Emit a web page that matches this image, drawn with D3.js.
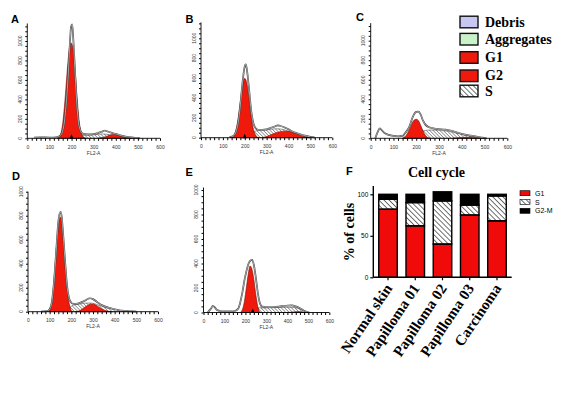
<!DOCTYPE html>
<html>
<head>
<meta charset="utf-8">
<script src="https://cdn.jsdelivr.net/npm/d3@7"></script>
<style>
	body { margin: 0; background: #fff; }
	svg { display: block; }
</style>
</head>
<body>
<svg id="fig" width="580" height="396"></svg>
<script>
// ---- data ----
const histXTicks = [0, 100, 200, 300, 400, 500, 600];
const histYTicks = [0, 200, 400, 600, 800, 1000];
const histXLabel = 'FL2-A';

// panel A
const totalA = [[30,8],[60,10],[100,8],[130,10],[150,30],[165,130],[175,330],[185,650],[192,950],[198,1150],[203,1170],[208,1020],[215,720],[222,420],[230,190],[240,80],[250,48],[270,40],[300,42],[320,55],[340,70],[350,80],[360,72],[380,58],[400,45],[420,30],[450,15],[480,7],[500,2],[510,0]];
const g1A = [[135,0],[150,40],[160,150],[170,380],[180,680],[190,920],[198,980],[205,940],[215,720],[225,420],[235,170],[245,50],[255,10],[265,0]];
const g2A = [[320,0],[340,8],[360,22],[380,36],[395,40],[410,34],[430,18],[450,6],[470,0]];
const sA = [[200,0],[230,20],[250,30],[280,32],[310,38],[340,45],[370,38],[400,26],[430,12],[460,3],[480,0]];

// panel B
const totalB = [[130,5],[150,20],[160,60],[170,150],[180,330],[190,560],[200,720],[205,738],[210,680],[220,480],[230,260],[240,140],[250,95],[260,80],[280,80],[300,85],[320,100],[340,115],[350,125],[360,120],[380,105],[400,85],[420,60],[440,45],[460,30],[480,18],[500,8],[520,0]];
const g1B = [[135,0],[150,25],[160,80],[170,200],[180,370],[190,530],[200,597],[210,540],[220,380],[230,200],[240,80],[250,25],[260,0]];
const g2B = [[280,0],[300,12],[320,30],[340,48],[360,60],[380,66],[400,64],[420,52],[440,35],[460,18],[480,6],[500,0]];
const sB = [[180,0],[200,20],[220,40],[240,60],[260,72],[280,75],[300,78],[320,85],[340,90],[360,88],[380,80],[400,65],[420,50],[440,35],[460,20],[480,8],[500,0]];

// panel C
const totalC = [[20,0],[30,60],[40,102],[50,80],[60,55],[80,35],[100,25],[120,20],[140,25],[150,50],[170,120],[185,220],[200,270],[210,273],[220,240],[230,180],[240,140],[260,110],[280,100],[300,95],[320,90],[340,85],[360,75],[380,60],[400,45],[420,35],[440,28],[460,20],[480,10],[500,3],[510,0]];
const g1C = [[140,0],[150,15],[160,45],[170,90],[180,145],[190,185],[200,195],[210,180],[220,130],[230,75],[240,30],[250,8],[260,0]];
const g2C = [[360,0],[380,4],[400,9],[420,11],[440,9],[460,4],[480,0]];
const sC = [[140,0],[160,10],[180,30],[200,50],[220,70],[240,80],[260,85],[280,85],[300,82],[320,78],[340,72],[360,62],[380,52],[400,40],[420,30],[440,20],[460,12],[480,5],[500,0]];

// panel D
const totalD = [[60,0],[90,5],[100,20],[110,80],[120,250],[130,500],[140,750],[150,833],[155,800],[160,700],[170,450],[180,220],[190,110],[200,75],[210,65],[230,68],[250,82],[270,100],[285,112],[300,105],[320,80],[340,55],[360,40],[380,30],[400,20],[420,12],[440,8],[460,5],[480,2],[500,0]];
const g1D = [[95,0],[105,30],[115,150],[125,380],[135,620],[145,770],[150,787],[158,720],[165,560],[175,320],[185,130],[195,30],[205,0]];
const g2D = [[220,0],[240,10],[260,35],[280,58],[295,64],[310,58],[330,35],[350,15],[370,4],[390,0]];
const sD = [[150,0],[170,15],[190,35],[210,55],[230,62],[250,68],[270,72],[290,72],[310,65],[330,52],[350,40],[370,30],[390,22],[410,15],[430,10],[450,6],[470,3],[490,0]];

// panel E
const totalE = [[20,0],[35,30],[45,55],[55,40],[65,20],[80,12],[100,10],[130,10],[150,12],[165,30],[175,80],[185,160],[195,260],[205,340],[215,400],[225,425],[232,430],[240,390],[250,280],[260,150],[270,70],[280,48],[300,45],[330,45],[360,48],[390,55],[420,58],[440,50],[460,35],[480,15],[495,3],[505,0]];
const g1E = [[175,0],[185,20],[195,90],[205,210],[215,330],[222,380],[230,360],[240,270],[250,140],[260,40],[268,5],[275,0]];
const g2E = [[400,0],[430,5],[450,8],[470,5],[490,0]];
const sE = [[180,0],[200,10],[220,25],[240,35],[260,38],[300,38],[340,40],[380,42],[420,42],[450,35],[470,22],[490,8],[500,0]];

// marker (G1 mean channel)
const markerA = 200, markerB = 200, markerE = 235;

// legend of histograms
const modelNames = ['Debris', 'Aggregates', 'G1', 'G2', 'S'];

// panel F
const categories = ['Normal skin', 'Papilloma 01', 'Papilloma 02', 'Papilloma 03', 'Carcinoma'];
const g1Pct = [82, 62, 40, 75, 68];
const sPct = [12, 28, 52, 12, 30];
const g2mPct = [6, 10, 11, 13, 2];
const phaseNames = ['G1', 'S', 'G2-M'];
const fYTicks = [0, 50, 100];

// ---- drawing ----
const svg = d3.select('#fig');
const red = '#ef1a0b';

const defs = svg.append('defs');
defs.append('pattern')
	.attr('id', 'hatch')
	.attr('patternUnits', 'userSpaceOnUse')
	.attr('width', 2.4).attr('height', 2.4)
	.attr('patternTransform', 'rotate(-45)')
	.append('line')
	.attr('x1', 0).attr('y1', 0).attr('x2', 0).attr('y2', 2.4)
	.attr('stroke', '#1a1a1a').attr('stroke-width', 0.8);
defs.append('pattern')
	.attr('id', 'hatchF')
	.attr('patternUnits', 'userSpaceOnUse')
	.attr('width', 3.6).attr('height', 3.6)
	.attr('patternTransform', 'rotate(-45)')
	.append('line')
	.attr('x1', 0).attr('y1', 0).attr('x2', 0).attr('y2', 3.6)
	.attr('stroke', '#111').attr('stroke-width', 1.2);

function drawHist(p) {
	const x = d3.scaleLinear().domain([0, 600]).range([p.left, p.right]);
	const y = d3.scaleLinear().domain([0, 1000]).range([p.bottom, p.y1000]);
	const yAx = y.copy().domain([0, p.yMax]).range([p.bottom, y(p.yMax)]);
	const g = svg.append('g');

	const area = d3.area()
		.x((d) => x(d[0]))
		.y0(y(0))
		.y1((d) => y(d[1]))
		.curve(d3.curveMonotoneX);
	const line = d3.line()
		.x((d) => x(d[0]))
		.y((d) => y(d[1]))
		.curve(d3.curveMonotoneX);

	// S phase (hatched)
	g.append('path').datum(p.s).attr('d', area)
		.attr('fill', 'url(#hatch)').attr('stroke', '#333').attr('stroke-width', 0.5);
	// G2 and G1
	g.append('path').datum(p.g2).attr('d', area)
		.attr('fill', red).attr('stroke', '#8a1205').attr('stroke-width', 0.6);
	g.append('path').datum(p.g1).attr('d', area)
		.attr('fill', red).attr('stroke', '#6a0d03').attr('stroke-width', 0.6);
	// total (data + fit) as double line
	g.append('path').datum(p.total).attr('d', line)
		.attr('fill', 'none').attr('stroke', '#3a3a3a').attr('stroke-width', 1.7);
	g.append('path').datum(p.total).attr('d', line)
		.attr('fill', 'none').attr('stroke', '#fff').attr('stroke-width', 0.55);

	// x axis: minor ticks every 20, labels every 100
	g.append('g')
		.attr('transform', `translate(0,${p.bottom})`)
		.call(d3.axisBottom(x).tickValues(d3.range(0, 601, 20)).tickSize(2.5).tickFormat(''))
		.call((a) => a.select('.domain').attr('stroke-width', 0.9).attr('d', `M${p.left},0H${p.right}`));
	g.append('g')
		.attr('transform', `translate(0,${p.bottom})`)
		.call(d3.axisBottom(x).tickValues(histXTicks).tickSize(0).tickPadding(7))
		.call((a) => a.select('.domain').remove())
		.call((a) => a.selectAll('text').attr('font-size', 5).attr('fill', '#333').attr('font-family', 'Arial, sans-serif'));
	g.append('text')
		.attr('x', x(300)).attr('y', p.bottom + 16.5)
		.attr('text-anchor', 'middle')
		.attr('font-size', 5).attr('font-family', 'Arial, sans-serif').attr('fill', '#333')
		.text(histXLabel);

	// y axis
	g.append('g')
		.attr('transform', `translate(${p.left},0)`)
		.call(d3.axisLeft(yAx).tickValues(d3.range(0, p.yMax + 1, 50)).tickSize(2).tickFormat(''))
		.call((a) => a.select('.domain').attr('stroke-width', 0.9).attr('d', `M0,${p.bottom}V${yAx(p.yMax)}`));
	g.append('g')
		.selectAll('text')
		.data(histYTicks)
		.join('text')
		.attr('transform', (d) => `translate(${p.left - 5.5},${y(d)}) rotate(-90)`)
		.attr('text-anchor', 'middle')
		.attr('font-size', 5).attr('font-family', 'Arial, sans-serif').attr('fill', '#333')
		.text((d) => d);

	// G1 marker
	if (p.marker != null) {
		const mx = x(p.marker);
		g.append('path')
			.attr('d', `M${mx - 2},${p.bottom + 0.5}L${mx + 2},${p.bottom + 0.5}L${mx},${p.bottom - 4}Z`)
			.attr('fill', '#000');
	}

	// panel letter
	svg.append('text')
		.attr('x', p.lx).attr('y', p.ly)
		.attr('font-family', 'Arial, "Liberation Sans", sans-serif')
		.attr('font-weight', 'bold').attr('font-size', 11)
		.text(p.letter);
}

const panels = [
	{ letter: 'A', total: totalA, g1: g1A, g2: g2A, s: sA, marker: markerA,
		left: 27.3, right: 160, bottom: 138.3, y1000: 41, yMax: 1180, lx: 11, ly: 23 },
	{ letter: 'B', total: totalB, g1: g1B, g2: g2B, s: sB, marker: markerB,
		left: 201, right: 332.3, bottom: 137.7, y1000: 38.3, yMax: 1160, lx: 185.5, ly: 23 },
	{ letter: 'C', total: totalC, g1: g1C, g2: g2C, s: sC, marker: null,
		left: 370.7, right: 507.3, bottom: 138.3, y1000: 40.7, yMax: 1180, lx: 356, ly: 21 },
	{ letter: 'D', total: totalD, g1: g1D, g2: g2D, s: sD, marker: null,
		left: 28, right: 158, bottom: 311.7, y1000: 191.7, yMax: 1000, lx: 12, ly: 180 },
	{ letter: 'E', total: totalE, g1: g1E, g2: g2E, s: sE, marker: markerE,
		left: 203.5, right: 329.3, bottom: 312.5, y1000: 190, yMax: 1020, lx: 185.5, ly: 176 },
];
panels.forEach(drawHist);

// legend of histogram model components
const modelFill = ['#c7c7f2', '#c9f2c9', red, red, 'url(#hatchF)'];
const legC = svg.append('g');
const legRows = [22, 39.2, 57.5, 75.8, 91];
modelNames.forEach((name, i) => {
	legC.append('rect')
		.attr('x', 460).attr('y', legRows[i] - 5.8)
		.attr('width', 18).attr('height', 11.6)
		.attr('fill', modelFill[i]).attr('stroke', '#111').attr('stroke-width', 1.4);
	legC.append('text')
		.attr('x', 485).attr('y', legRows[i] + 4.5)
		.attr('font-family', '"Liberation Serif", "Times New Roman", serif')
		.attr('font-weight', 'bold').attr('font-size', 14)
		.text(name);
});

// ---- panel F ----
const fx = d3.scaleBand().domain(categories).range([373.3, 511.7]).paddingInner(0.32).paddingOuter(0.2);
const fy = d3.scaleLinear().domain([0, 110]).range([277.3, 186]);
const stackData = categories.map((c, i) => ({ cat: c, G1: g1Pct[i], S: sPct[i], 'G2-M': g2mPct[i] }));
const series = d3.stack().keys(phaseNames)(stackData);
const phaseFill = [ '#f00a0a', 'url(#hatchF)', '#000' ];

const gF = svg.append('g');
series.forEach((s, k) => {
	gF.append('g')
		.selectAll('rect')
		.data(s)
		.join('rect')
		.attr('x', (d) => fx(d.data.cat))
		.attr('y', (d) => fy(d[1]))
		.attr('width', fx.bandwidth())
		.attr('height', (d) => fy(d[0]) - fy(d[1]))
		.attr('fill', phaseFill[k])
		.attr('stroke', '#000').attr('stroke-width', 1.4);
});

gF.append('g')
	.attr('transform', 'translate(373.3,0)')
	.call(d3.axisLeft(fy).tickValues(fYTicks).tickSize(3).tickPadding(2))
	.call((a) => a.select('.domain').attr('stroke-width', 1.4).attr('d', `M0,${fy(0)}V${fy(110)}`))
	.call((a) => a.selectAll('line').attr('stroke-width', 1.2))
	.call((a) => a.selectAll('text').attr('font-size', 6.5).attr('font-family', 'Arial, sans-serif'));

gF.append('g')
	.attr('transform', `translate(0,${fy(0)})`)
	.call(d3.axisBottom(fx).tickSize(3).tickFormat(''))
	.call((a) => a.select('.domain').attr('stroke-width', 1.4).attr('d', 'M373.3,0H511.7'))
	.call((a) => a.selectAll('line').attr('stroke-width', 1.2));

gF.append('g')
	.selectAll('text')
	.data(categories)
	.join('text')
	.attr('transform', (d) => `translate(${fx(d) + fx.bandwidth() / 2 + 5},${fy(0) + 11}) rotate(-56)`)
	.attr('text-anchor', 'end')
	.attr('font-family', '"Liberation Serif", "Times New Roman", serif')
	.attr('font-weight', 'bold').attr('font-size', 15)
	.text((d) => d);

gF.append('text')
	.attr('x', fx(categories[2]) + fx.bandwidth() / 2 - 6).attr('y', 177)
	.attr('text-anchor', 'middle')
	.attr('font-family', '"Liberation Serif", "Times New Roman", serif')
	.attr('font-weight', 'bold').attr('font-size', 14)
	.text('Cell cycle');

gF.append('text')
	.attr('transform', 'translate(354,232) rotate(-90)')
	.attr('text-anchor', 'middle')
	.attr('font-family', '"Liberation Serif", "Times New Roman", serif')
	.attr('font-weight', 'bold').attr('font-size', 14)
	.text('% of cells');

// legend F
const legF = svg.append('g');
phaseNames.forEach((name, i) => {
	legF.append('rect')
		.attr('x', 520).attr('y', 190.7 + i * 8.8)
		.attr('width', 10).attr('height', 5)
		.attr('fill', phaseFill[i]).attr('stroke', '#000').attr('stroke-width', 0.6);
	legF.append('text')
		.attr('x', 535).attr('y', 195.8 + i * 8.8)
		.attr('font-family', 'Arial, sans-serif').attr('font-size', 7)
		.text(name);
});

svg.append('text')
	.attr('x', 346).attr('y', 175)
	.attr('font-family', 'Arial, "Liberation Sans", sans-serif')
	.attr('font-weight', 'bold').attr('font-size', 11)
	.text('F');
</script>
</body>
</html>
